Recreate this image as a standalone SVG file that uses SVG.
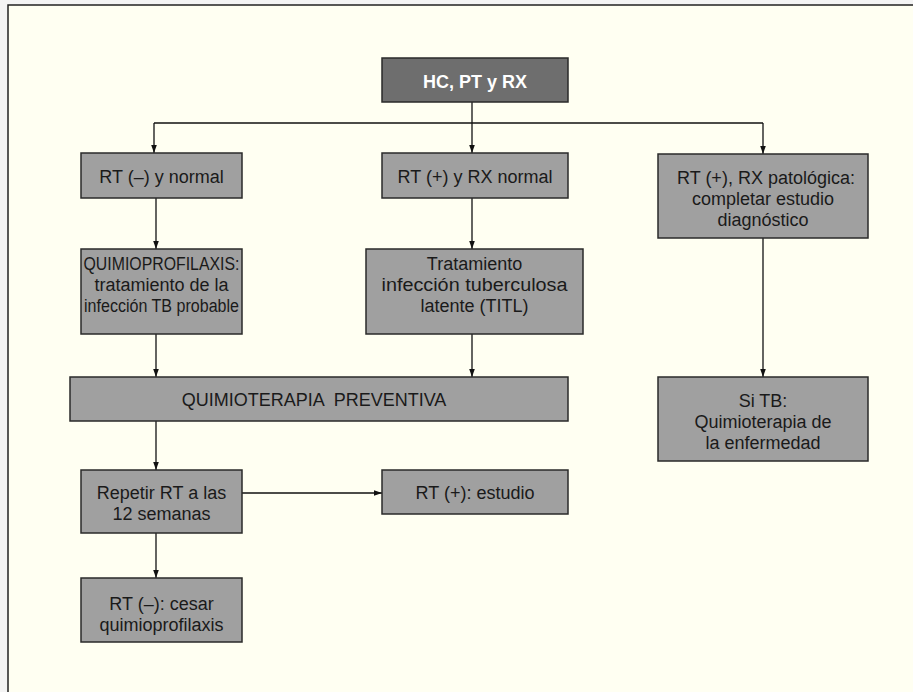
<svg xmlns="http://www.w3.org/2000/svg" width="913" height="692" viewBox="0 0 913 692">
<defs>
<marker id="ah" markerUnits="userSpaceOnUse" markerWidth="8" markerHeight="12" refX="10" refY="3.5" orient="auto" viewBox="0 0 10 7">
<path d="M0,0 L10,3.5 L0,7 Z" fill="#111"/>
</marker>
<style>
.box{fill:#a0a0a0;stroke:#2a2a2a;stroke-width:1.5}
.dark{fill:#6e6e6e;stroke:#2a2a2a;stroke-width:1.5}
.t{font-family:"Liberation Sans",Arial,sans-serif;font-size:18px;fill:#1a1a1a;text-anchor:middle}
.tw{font-family:"Liberation Sans",Arial,sans-serif;font-size:18px;font-weight:bold;fill:#ffffff;text-anchor:middle}
.c{fill:none;stroke:#111;stroke-width:1.3}
</style>
</defs>
<rect x="0" y="0" width="913" height="692" fill="#f4f4f4"/>
<rect x="8" y="5" width="905" height="687" fill="#fffff2"/>
<path d="M8,692 L8,5 L913,5" fill="none" stroke="#222" stroke-width="1.5"/>

<g id="connectors">
<path class="c" d="M472,102 L472,123"/>
<path class="c" d="M154,123 L763,123"/>
<path class="c" d="M154,123 L154,153" marker-end="url(#ah)"/>
<path class="c" d="M472,123 L472,153" marker-end="url(#ah)"/>
<path class="c" d="M763,123 L763,154" marker-end="url(#ah)"/>
<path class="c" d="M156,198 L156,249" marker-end="url(#ah)"/>
<path class="c" d="M472,198 L472,249" marker-end="url(#ah)"/>
<path class="c" d="M763,238 L763,377" marker-end="url(#ah)"/>
<path class="c" d="M156,334 L156,377" marker-end="url(#ah)"/>
<path class="c" d="M472,334 L472,377" marker-end="url(#ah)"/>
<path class="c" d="M156,421 L156,470" marker-end="url(#ah)"/>
<path class="c" d="M242,493 L382,493" marker-end="url(#ah)"/>
<path class="c" d="M156,533 L156,578" marker-end="url(#ah)"/>
</g>

<g id="hc">
<rect class="dark" x="382" y="58" width="186" height="44"/>
<text class="tw" x="475" y="88">HC, PT y RX</text>
</g>

<g id="rt-neg">
<rect class="box" x="81" y="153" width="161" height="45"/>
<text class="t" x="161.5" y="183">RT (–) y normal</text>
</g>

<g id="rt-pos">
<rect class="box" x="382" y="153" width="186" height="45"/>
<text class="t" x="475" y="183">RT (+) y RX normal</text>
</g>

<g id="rt-pat">
<rect class="box" x="658" y="154" width="210" height="84"/>
<text class="t" x="766" y="184">RT (+), RX patológica:</text>
<text class="t" x="763" y="205">completar estudio</text>
<text class="t" x="763" y="226">diagnóstico</text>
</g>

<g id="quimioprof">
<rect class="box" x="81" y="249" width="161" height="85"/>
<text class="t" x="161.5" y="270" textLength="156" lengthAdjust="spacingAndGlyphs">QUIMIOPROFILAXIS:</text>
<text class="t" x="161.5" y="291">tratamiento de la</text>
<text class="t" x="161.5" y="312" textLength="155" lengthAdjust="spacingAndGlyphs">infección TB probable</text>
</g>

<g id="titl">
<rect class="box" x="366" y="249" width="217" height="85"/>
<text class="t" x="474.5" y="270">Tratamiento</text>
<text class="t" x="474.5" y="291" textLength="186" lengthAdjust="spacingAndGlyphs">infección tuberculosa</text>
<text class="t" x="474.5" y="312">latente (TITL)</text>
</g>

<g id="preventiva">
<rect class="box" x="70" y="377" width="498" height="44"/>
<text class="t" x="314" y="406" xml:space="preserve">QUIMIOTERAPIA  PREVENTIVA</text>
</g>

<g id="sitb">
<rect class="box" x="658" y="377" width="210" height="84"/>
<text class="t" x="763" y="407">Si TB:</text>
<text class="t" x="763" y="428">Quimioterapia de</text>
<text class="t" x="763" y="449">la enfermedad</text>
</g>

<g id="repetir">
<rect class="box" x="81" y="470" width="161" height="63"/>
<text class="t" x="161.5" y="499">Repetir RT a las</text>
<text class="t" x="161.5" y="520">12 semanas</text>
</g>

<g id="estudio">
<rect class="box" x="382" y="470" width="186" height="44"/>
<text class="t" x="475" y="499">RT (+): estudio</text>
</g>

<g id="cesar">
<rect class="box" x="81" y="578" width="161" height="64"/>
<text class="t" x="161.5" y="610">RT (–): cesar</text>
<text class="t" x="161.5" y="631">quimioprofilaxis</text>
</g>
</svg>
